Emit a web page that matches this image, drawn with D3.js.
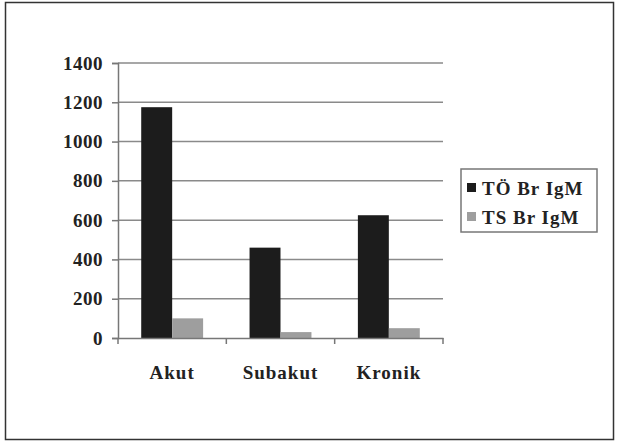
<!DOCTYPE html>
<html>
<head>
<meta charset="utf-8">
<script src="https://cdn.jsdelivr.net/npm/d3@7/dist/d3.min.js"></script>
<style>
  html, body { margin: 0; padding: 0; background: #fff; }
  svg { display: block; }
  text { font-family: "Liberation Serif", "Times New Roman", serif; font-weight: bold; fill: #222; }
</style>
</head>
<body>
<svg id="chart" width="617" height="443"></svg>
<script>
// Categories, series and axis ticks
const categories = ["Akut", "Subakut", "Kronik"];
const seriesNames = ["TÖ Br IgM", "TS Br IgM"];
const toValues = [1175, 460, 625];
const tsValues = [100, 30, 50];
const yTicks = [0, 200, 400, 600, 800, 1000, 1200, 1400];

const seriesColors = ["#1c1c1c", "#9e9e9e"];

const svg = d3.select("#chart");

// Outer frame
svg.append("rect")
  .attr("x", 5.5).attr("y", 2.5)
  .attr("width", 608).attr("height", 437)
  .attr("fill", "#fff").attr("stroke", "#333").attr("stroke-width", 1.5);

const plot = { left: 118, right: 443, top: 63, bottom: 338 };

const x = d3.scaleBand()
  .domain(categories)
  .range([plot.left, plot.right])
  .paddingInner(0).paddingOuter(0);

const y = d3.scaleLinear()
  .domain([0, 1400])
  .range([plot.bottom, plot.top]);

const g = svg.append("g");

// Horizontal gridlines
g.selectAll("line.grid")
  .data(yTicks.filter(d => d > 0))
  .join("line")
  .attr("class", "grid")
  .attr("x1", plot.left).attr("x2", plot.right)
  .attr("y1", d => y(d)).attr("y2", d => y(d))
  .attr("stroke", "#8a8a8a").attr("stroke-width", 1.5);

// Bars: two per category, Excel-style 150% gap
const bw = x.bandwidth() / 3.5;
const data = [toValues, tsValues];
data.forEach((vals, si) => {
  g.selectAll("rect.s" + si)
    .data(categories.map((c, i) => ({ c, v: vals[i] })))
    .join("rect")
    .attr("class", "s" + si)
    .attr("x", d => x(d.c) + bw * 0.75 + si * bw)
    .attr("width", bw)
    .attr("y", d => y(d.v))
    .attr("height", d => y(0) - y(d.v))
    .attr("fill", seriesColors[si]);
});

// Y axis
const yAxis = d3.axisLeft(y).tickValues(yTicks).tickSize(6).tickPadding(9).tickFormat(d3.format("d"));
const ya = svg.append("g").attr("transform", `translate(${plot.left},0)`).call(yAxis);
ya.select(".domain").attr("stroke", "#777").attr("stroke-width", 1.5);
ya.selectAll(".tick line").attr("stroke", "#777").attr("stroke-width", 1.5);
ya.selectAll(".tick text").style("font-size", "19px").style("font-family", "Liberation Serif, serif")
  .style("font-weight", "bold").style("letter-spacing", "0.5px").attr("fill", "#222");

// X axis
const xAxis = d3.axisBottom(x).tickSize(0).tickPadding(28);
const xa = svg.append("g").attr("transform", `translate(0,${plot.bottom})`).call(xAxis);
xa.select(".domain").attr("stroke", "#777").attr("stroke-width", 1.5);
xa.selectAll(".tick text").style("font-size", "19px").style("font-family", "Liberation Serif, serif")
  .style("font-weight", "bold").style("letter-spacing", "1px").attr("fill", "#222");
// category separators
xa.selectAll("line.sep")
  .data(categories.map(c => x(c)).concat([plot.right]))
  .join("line")
  .attr("class", "sep")
  .attr("x1", d => d).attr("x2", d => d)
  .attr("y1", 0).attr("y2", 6)
  .attr("stroke", "#777").attr("stroke-width", 1.5);

// Legend
const lg = svg.append("g").attr("transform", "translate(461,169)");
lg.append("rect").attr("width", 136).attr("height", 63)
  .attr("fill", "#fff").attr("stroke", "#777").attr("stroke-width", 1.5);
seriesNames.forEach((name, i) => {
  const row = lg.append("g").attr("transform", `translate(6,${19 + i * 29})`);
  row.append("rect").attr("x", 0).attr("y", -5).attr("width", 9).attr("height", 9).attr("fill", seriesColors[i]);
  row.append("text").attr("x", 15).attr("y", 7).style("font-size", "19px")
    .style("letter-spacing", "1px").text(name);
});
</script>
</body>
</html>
